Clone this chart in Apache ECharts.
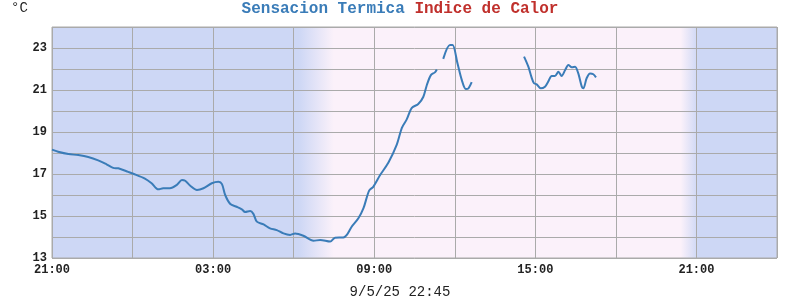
<!DOCTYPE html>
<html>
<head>
<meta charset="utf-8">
<script src="https://cdn.jsdelivr.net/npm/echarts@6/dist/echarts.min.js"></script>
<style>html,body{margin:0;padding:0;background:#fff}#c{width:800px;height:300px}</style>
</head>
<body>
<div id="c"></div>
<script>
// hours elapsed since 21:00 of the previous day
var hours = [0,0.23,0.61,0.98,1.35,1.72,2.03,2.28,2.47,2.84,3.03,3.46,3.71,3.96,4.14,4.39,4.65,4.84,4.96,5.15,5.40,5.64,5.95,6.20,6.33,6.45,6.64,6.88,7.07,7.19,7.38,7.50,7.63,7.88,8.12,8.37,8.62,8.87,9.05,9.36,9.74,9.99,10.36,10.54,10.85,10.98,11.16,11.41,11.60,11.81,11.97,12.22,12.53,12.84,13.03,13.21,13.40,13.64,13.83,13.96,14.11,14.26,14.33,
  14.45,
  14.57,14.82,14.92,15.10,15.26,15.41,15.51,15.63,
  16.6,
  17.58,17.74,17.86,17.95,18.05,18.20,18.36,18.48,18.61,18.73,18.86,18.98,19.11,19.23,19.36,19.48,19.60,19.73,19.79,19.91,20.04,20.16,20.26];
var sensacion = [18.16,18.06,17.95,17.9,17.81,17.65,17.46,17.29,17.27,17.1,17.01,16.78,16.56,16.27,16.32,16.32,16.48,16.71,16.68,16.44,16.24,16.32,16.56,16.63,16.52,16.0,15.57,15.44,15.32,15.19,15.24,15.1,14.73,14.6,14.41,14.33,14.17,14.1,14.17,14.06,13.82,13.86,13.78,13.97,13.98,14.1,14.49,14.89,15.37,16.21,16.40,16.95,17.55,18.4,19.2,19.6,20.15,20.33,20.68,21.24,21.71,21.84,21.98,
  null,
  22.48,23.14,23.14,22.27,21.48,21.05,21.08,21.37,
  null,
  22.59,22.11,21.6,21.32,21.27,21.08,21.16,21.40,21.67,21.67,21.87,21.67,21.95,22.19,22.08,22.11,21.79,21.16,21.08,21.56,21.79,21.75,21.6];
var xTickLabels = ['21:00','03:00','09:00','15:00','21:00'];
var yTickLabels = ['13','15','17','19','21','23'];
var titleParts = ['Sensacion Termica','Indice de Calor'];
var unitLabel = '°C';
var stamp = '9/5/25 22:45';

var pts = hours.map(function(h,i){ return [h, sensacion[i] === null ? '-' : sensacion[i]]; });
var blue = '#cdd7f5', pink = '#fbf1fa';
var chart = echarts.init(document.getElementById('c'));
var mono = 'Liberation Mono, DejaVu Sans Mono, monospace';
chart.setOption({
  animation: false,
  title: [
    {text: '{a|' + titleParts[0] + ' }{b|' + titleParts[1] + '}', left: 'center', top: 1, padding: 0,
     textStyle: {rich: {
       a: {color: '#3a7cb8', fontFamily: mono, fontSize: 16, fontWeight: 'bold'},
       b: {color: '#c0302c', fontFamily: mono, fontSize: 16, fontWeight: 'bold'}}}},
    {text: unitLabel, left: 11, top: 1, padding: 0,
     textStyle: {color: '#222', fontFamily: mono, fontSize: 14, fontWeight: 'normal'}},
    {text: stamp, left: 'center', top: 285, padding: 0,
     textStyle: {color: '#222', fontFamily: mono, fontSize: 14, fontWeight: 'normal'}}
  ],
  grid: {left: 52, right: 23, top: 27, bottom: 42, show: true, borderColor: '#aaa', borderWidth: 1,
    backgroundColor: new echarts.graphic.LinearGradient(0, 0, 1, 0, [
      {offset: 0, color: blue}, {offset: 9.2/27, color: blue}, {offset: 10.5/27, color: pink},
      {offset: 23.4/27, color: pink}, {offset: 24.05/27, color: blue}, {offset: 1, color: blue}])},
  xAxis: {type: 'value', min: 0, max: 27, interval: 3,
    axisLine: {show: false}, axisTick: {show: false},
    splitLine: {show: true, lineStyle: {color: '#aaa', width: 1}},
    axisLabel: {color: '#222', fontFamily: mono, fontSize: 12, fontWeight: 'bold', margin: 6,
      formatter: function(v){ return v % 6 === 0 ? xTickLabels[v/6] : ''; }}},
  yAxis: {type: 'value', min: 13, max: 24, interval: 1,
    axisLine: {show: false}, axisTick: {show: false},
    splitLine: {show: true, lineStyle: {color: '#aaa', width: 1}},
    axisLabel: {color: '#222', fontFamily: mono, fontSize: 12, fontWeight: 'bold', margin: 5, showMinLabel: true,
      formatter: function(v){ var i = yTickLabels.indexOf(String(v)); return i >= 0 ? yTickLabels[i] : ''; }}},
  series: [{type: 'line', data: pts, showSymbol: false, smooth: 0.3, connectNulls: false,
    lineStyle: {color: '#3a7cb8', width: 2}}]
});
</script>
</body>
</html>
